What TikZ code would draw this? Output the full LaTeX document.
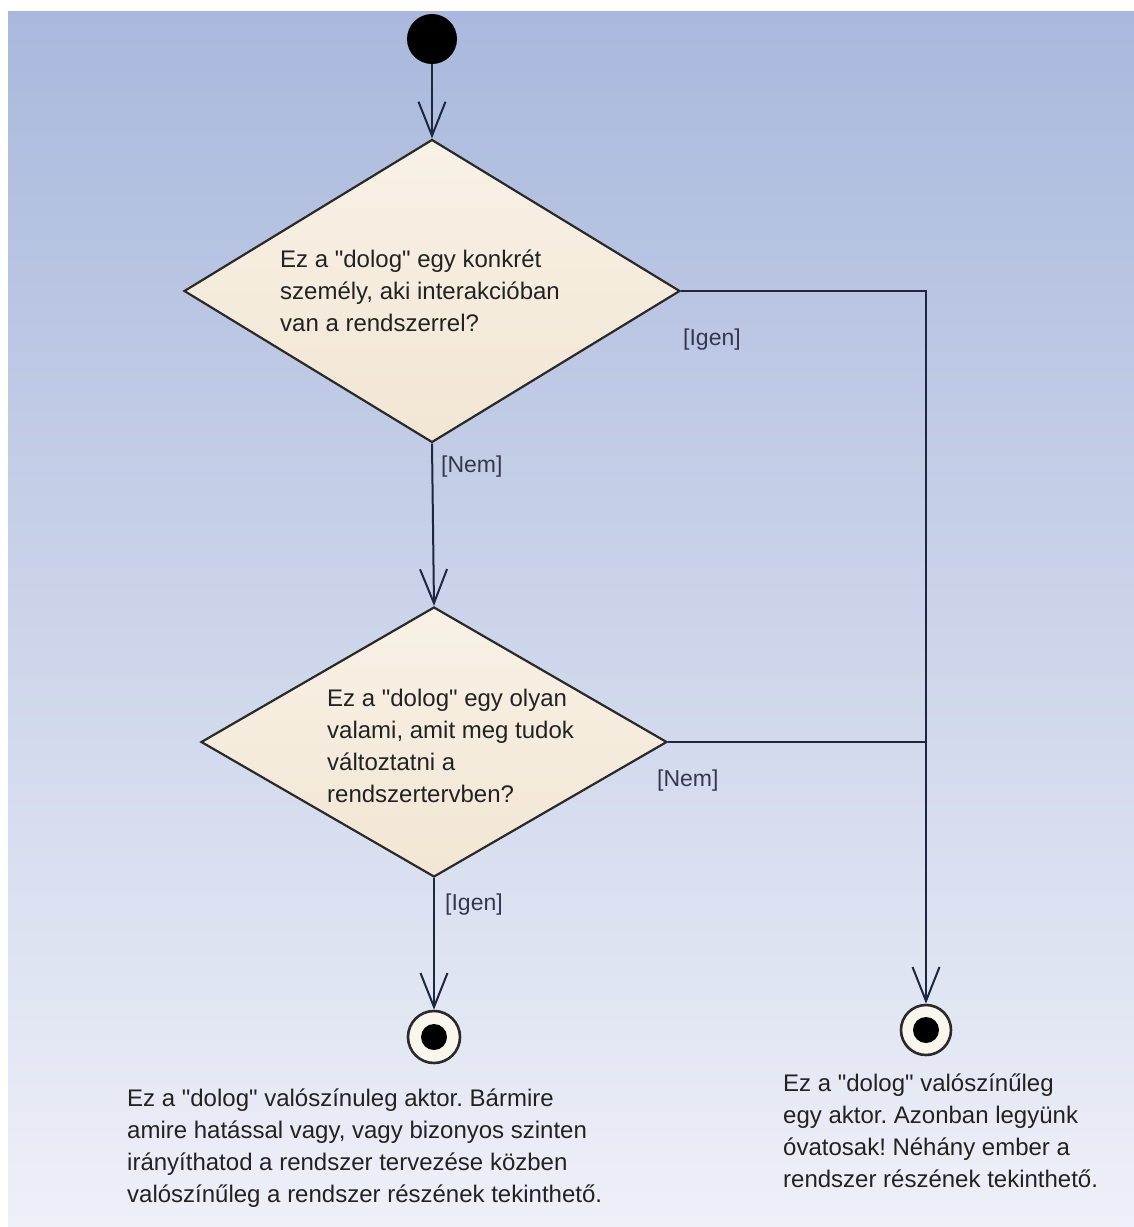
\documentclass[tikz,border=0pt]{standalone}
\usepackage{fontspec}
% plain family without the TeX character mapping, so " stays a straight quote
\newfontfamily\uisans{Liberation Sans}
\usetikzlibrary{shapes.geometric,arrows.meta,calc}
\frenchspacing

\definecolor{panelTop}{HTML}{A9B8DC}
\definecolor{panelBot}{HTML}{EEF0F8}
\definecolor{flowLine}{HTML}{1E2740}
\definecolor{decBorder}{HTML}{2A2A2A}
\definecolor{decTop}{HTML}{F8F1E6}
\definecolor{decBot}{HTML}{F2E6D4}
\definecolor{endFill}{HTML}{F9F6EE}
\definecolor{bodyText}{HTML}{222222}
\definecolor{guardText}{HTML}{33384E}

\tikzset{
  decision/.style={diamond, draw=decBorder, line width=2.2pt,
    top color=decTop, bottom color=decBot, inner sep=0pt},
  startdot/.style={circle, fill=black, inner sep=0pt, minimum size=50pt},
  enddot/.style={circle, draw=decBorder, line width=2.6pt, fill=endFill,
    inner sep=0pt, minimum size=52pt,
    path picture={\fill[black] (path picture bounding box.center) circle (13pt);}},
  flow/.style={draw=flowLine, line width=2pt,
    -{Straight Barb[length=34pt,width=27pt]}},
  plainflow/.style={draw=flowLine, line width=2pt},
  bodytxt/.style={inner sep=0pt, align=left, text=bodyText,
    font=\uisans\fontsize{24}{32}\selectfont},
  guard/.style={inner sep=0pt, text=guardText,
    font=\uisans\fontsize{23}{28}\selectfont}
}

\begin{document}
\begin{tikzpicture}[x=1pt,y=-1pt]
  \useasboundingbox (0,0) rectangle (1134,1227);
  % background panel
  \fill[white] (0,0) rectangle (1134,1227);
  \shade[top color=panelTop, bottom color=panelBot] (8,11) rectangle (1134,1227);

  % nodes
  \node[startdot] (start) at (432,39) {};
  \node[decision, minimum width=496pt, minimum height=303pt] (d1) at (432,291) {};
  \node[decision, minimum width=466pt, minimum height=270pt] (d2) at (434,742) {};
  \node[enddot] (endL) at (434,1037) {};
  \node[enddot, minimum size=50pt] (endR) at (926,1030) {};
  \coordinate (join) at (d2.east -| endR.center);

  % question texts
  \node[bodytxt, anchor=north west] (q1) at (280,249.5)
    {Ez a "dolog" egy konkrét\\személy, aki interakcióban\\van a rendszerrel?};
  \node[bodytxt, anchor=north west] (q2) at (327,688.5)
    {Ez a "dolog" egy olyan\\valami, amit meg tudok\\változtatni a\\rendszertervben?};

  % connectors
  \draw[flow] (start.south) -- (d1.north);
  \draw[flow] (d1.south) -- (d2.north);
  \draw[flow] (d2.south) -- (endL.north);
  \draw[flow] (d1.east) -- (d1.east -| endR.center) -- (endR.north);
  \draw[plainflow] (d2.east) -- (join);

  % guards
  \node[guard, anchor=base west] (g1) at (683,345) {[Igen]};
  \node[guard, anchor=base west] (g2) at (441,472) {[Nem]};
  \node[guard, anchor=base west] (g3) at (657,786) {[Nem]};
  \node[guard, anchor=base west] (g4) at (445,910) {[Igen]};

  % final notes
  \node[bodytxt, anchor=north west] (n1) at (127,1089)
    {Ez a "dolog" valószínuleg aktor. Bármire\\amire hatással vagy, vagy bizonyos szinten\\irányíthatod a rendszer tervezése közben\\valószínűleg a rendszer részének tekinthető.};
  \node[bodytxt, anchor=north west] (n2) at (783,1074)
    {Ez a "dolog" valószínűleg\\egy aktor. Azonban legyünk\\óvatosak! Néhány ember a\\rendszer részének tekinthető.};
\end{tikzpicture}
\end{document}
